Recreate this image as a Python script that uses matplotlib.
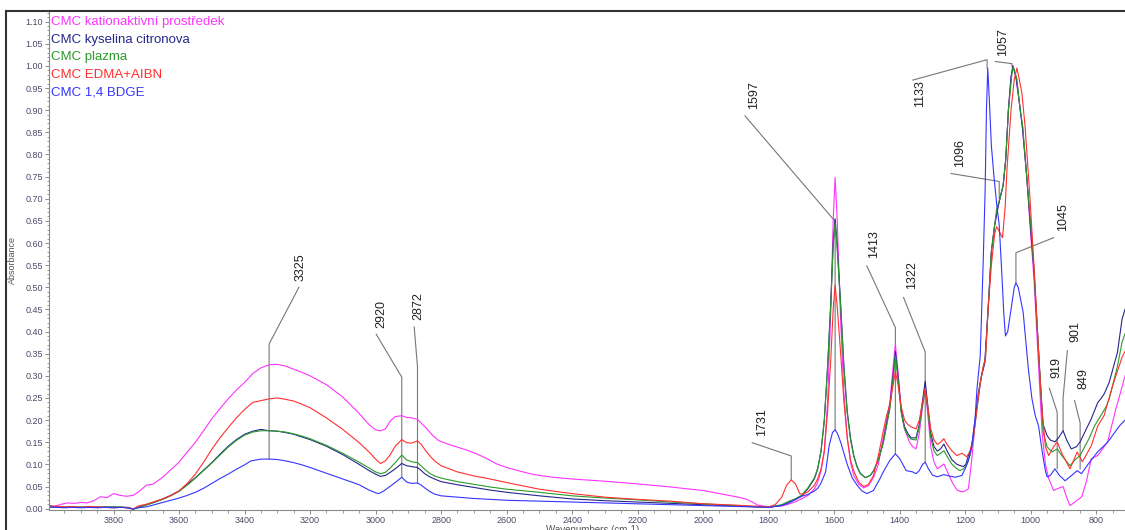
import matplotlib
matplotlib.use("Agg")
import matplotlib.pyplot as plt
from matplotlib.lines import Line2D
from matplotlib.ticker import MultipleLocator, FormatStrFormatter

plt.rcParams["font.family"] = ["Liberation Sans", "DejaVu Sans"]

# ------------------- data ------------------- #

names = [
    "CMC kationaktivní prostředek",
    "CMC kyselina citronova",
    "CMC plazma",
    "CMC EDMA+AIBN",
    "CMC 1,4 BDGE",
]
colors = ["#ff33ff", "#26268c", "#2b9a2b", "#ff3030", "#3535ff"]

wn_kation = [3997, 3980, 3960, 3940, 3920, 3900, 3880, 3860, 3840, 3820, 3800, 3780, 3760, 3740, 3720,
             3700, 3680, 3650, 3625, 3600, 3575, 3550, 3525, 3500, 3475, 3450, 3425, 3400, 3375, 3350,
             3325, 3300, 3275, 3250, 3225, 3200, 3150, 3100, 3050, 3020, 3000, 2985, 2970, 2955, 2940,
             2920, 2905, 2890, 2872, 2860, 2843, 2825, 2808, 2780, 2750, 2720, 2692, 2660, 2633, 2600,
             2560, 2517, 2460, 2400, 2300, 2200, 2100, 2000, 1950, 1900, 1870, 1850, 1833, 1800, 1760,
             1740, 1720, 1700, 1680, 1660, 1650, 1640, 1630, 1620, 1610, 1603, 1597, 1591, 1580, 1570,
             1560, 1550, 1540, 1525, 1510, 1495, 1480, 1465, 1450, 1440, 1430, 1420, 1413, 1405, 1395,
             1385, 1370, 1360, 1350, 1340, 1330, 1322, 1315, 1305, 1295, 1285, 1275, 1265, 1255, 1240,
             1225, 1210, 1200, 1190, 1180, 1170, 1160, 1150, 1140, 1130, 1120, 1110, 1100, 1094, 1084,
             1076, 1068, 1060, 1054, 1045, 1035, 1025, 1012, 1000, 990, 980, 970, 965, 955, 945,
             930, 919, 901, 890, 880, 870, 860, 844, 830, 815, 795, 765, 740, 721, 712]
abs_kation = [0.002, 0.005, 0.010, 0.013, 0.012, 0.014, 0.013, 0.018, 0.027, 0.025, 0.034, 0.030, 0.028, 0.030, 0.040,
              0.053, 0.055, 0.071, 0.088, 0.105, 0.128, 0.150, 0.176, 0.203, 0.226, 0.248, 0.268, 0.285, 0.305, 0.318,
              0.325, 0.326, 0.322, 0.315, 0.308, 0.300, 0.280, 0.252, 0.215, 0.190, 0.178, 0.176, 0.180, 0.198, 0.208,
              0.210, 0.206, 0.205, 0.202, 0.193, 0.180, 0.165, 0.154, 0.146, 0.139, 0.132, 0.124, 0.113, 0.102, 0.093,
              0.085, 0.077, 0.071, 0.067, 0.062, 0.056, 0.049, 0.041, 0.034, 0.027, 0.022, 0.015, 0.008, 0.004, 0.006,
              0.010, 0.015, 0.022, 0.030, 0.045, 0.060, 0.085, 0.130, 0.240, 0.450, 0.650, 0.748, 0.660, 0.420, 0.260,
              0.160, 0.105, 0.075, 0.055, 0.047, 0.052, 0.070, 0.100, 0.160, 0.200, 0.240, 0.320, 0.372, 0.310, 0.220,
              0.180, 0.150, 0.140, 0.135, 0.170, 0.230, 0.270, 0.220, 0.140, 0.105, 0.090, 0.095, 0.101, 0.085, 0.060,
              0.042, 0.038, 0.040, 0.045, 0.110, 0.190, 0.250, 0.300, 0.330, 0.450, 0.580, 0.640, 0.680, 0.700, 0.730,
              0.790, 0.900, 0.975, 1.000, 0.975, 0.920, 0.860, 0.750, 0.620, 0.520, 0.380, 0.240, 0.170, 0.100, 0.068,
              0.041, 0.045, 0.050, 0.025, 0.007, 0.012, 0.018, 0.027, 0.061, 0.113, 0.120, 0.151, 0.225, 0.275, 0.300]

wn_citron = [3997, 3975, 3950, 3925, 3900, 3875, 3850, 3825, 3800, 3775, 3755, 3740, 3725, 3700, 3675,
             3650, 3625, 3600, 3575, 3550, 3525, 3500, 3475, 3450, 3425, 3400, 3375, 3350, 3325, 3300,
             3275, 3250, 3225, 3200, 3150, 3100, 3050, 3020, 3000, 2985, 2970, 2955, 2940, 2920, 2905,
             2890, 2872, 2860, 2850, 2835, 2820, 2800, 2750, 2700, 2650, 2600, 2500, 2400, 2300, 2200,
             2100, 2000, 1900, 1800, 1760, 1740, 1720, 1700, 1680, 1660, 1650, 1640, 1630, 1620, 1610,
             1603, 1597, 1591, 1580, 1570, 1560, 1550, 1540, 1530, 1520, 1505, 1490, 1480, 1465, 1450,
             1440, 1430, 1420, 1413, 1405, 1395, 1385, 1375, 1365, 1350, 1340, 1330, 1322, 1315, 1305,
             1295, 1285, 1275, 1265, 1255, 1240, 1225, 1206, 1198, 1190, 1180, 1170, 1160, 1150, 1140,
             1130, 1120, 1110, 1100, 1094, 1084, 1076, 1068, 1060, 1054, 1045, 1035, 1025, 1012, 1000,
             990, 980, 970, 962, 950, 940, 926, 915, 901, 890, 876, 860, 849, 830, 815,
             795, 786, 775, 760, 735, 721, 712]
abs_citron = [0.007, 0.004, 0.003, 0.004, 0.003, 0.004, 0.003, 0.004, 0.004, 0.003, 0.003, -0.001, 0.003, 0.009, 0.015,
              0.022, 0.030, 0.040, 0.055, 0.070, 0.087, 0.104, 0.123, 0.141, 0.156, 0.168, 0.175, 0.179, 0.176, 0.175,
              0.172, 0.168, 0.162, 0.156, 0.141, 0.122, 0.100, 0.086, 0.078, 0.073, 0.075, 0.082, 0.090, 0.102, 0.097,
              0.095, 0.093, 0.086, 0.079, 0.072, 0.067, 0.061, 0.054, 0.048, 0.042, 0.037, 0.029, 0.022, 0.018, 0.015,
              0.012, 0.009, 0.006, 0.003, 0.008, 0.015, 0.020, 0.028, 0.045, 0.068, 0.090, 0.130, 0.200, 0.320, 0.470,
              0.600, 0.655, 0.600, 0.460, 0.320, 0.220, 0.160, 0.120, 0.095, 0.080, 0.070, 0.075, 0.085, 0.110, 0.150,
              0.190, 0.230, 0.300, 0.355, 0.300, 0.220, 0.185, 0.170, 0.160, 0.160, 0.190, 0.245, 0.288, 0.240, 0.170,
              0.140, 0.130, 0.135, 0.146, 0.130, 0.110, 0.100, 0.095, 0.100, 0.120, 0.140, 0.200, 0.260, 0.300, 0.330,
              0.450, 0.580, 0.640, 0.680, 0.700, 0.730, 0.790, 0.900, 0.975, 1.000, 0.975, 0.920, 0.860, 0.750, 0.630,
              0.540, 0.410, 0.280, 0.190, 0.165, 0.155, 0.151, 0.160, 0.176, 0.155, 0.135, 0.140, 0.151, 0.180, 0.203,
              0.240, 0.248, 0.260, 0.286, 0.353, 0.428, 0.450]

wn_plazma = [3997, 3975, 3950, 3925, 3900, 3875, 3850, 3825, 3800, 3775, 3755, 3740, 3725, 3700, 3675,
             3650, 3625, 3600, 3575, 3550, 3525, 3500, 3475, 3450, 3425, 3400, 3375, 3350, 3325, 3300,
             3275, 3250, 3225, 3200, 3150, 3100, 3050, 3020, 3000, 2985, 2970, 2955, 2940, 2920, 2905,
             2890, 2872, 2860, 2850, 2835, 2820, 2800, 2750, 2700, 2650, 2600, 2500, 2400, 2300, 2200,
             2100, 2000, 1900, 1800, 1760, 1740, 1720, 1700, 1680, 1660, 1650, 1640, 1630, 1620, 1610,
             1603, 1597, 1591, 1580, 1570, 1560, 1550, 1540, 1530, 1520, 1505, 1490, 1480, 1465, 1450,
             1440, 1430, 1420, 1413, 1405, 1395, 1385, 1375, 1365, 1350, 1340, 1330, 1322, 1315, 1305,
             1295, 1285, 1275, 1265, 1255, 1240, 1225, 1216, 1205, 1195, 1185, 1175, 1165, 1155, 1145,
             1138, 1130, 1120, 1110, 1104, 1094, 1084, 1076, 1068, 1057, 1053, 1042, 1032, 1024, 1012,
             996, 990, 980, 970, 962, 950, 935, 919, 905, 880, 865, 849, 835, 822, 805,
             786, 770, 760, 735, 721, 712]
abs_plazma = [0.004, 0.003, 0.004, 0.003, 0.004, 0.003, 0.004, 0.003, 0.004, 0.004, 0.002, -0.001, 0.002, 0.008, 0.014,
              0.021, 0.029, 0.039, 0.053, 0.069, 0.086, 0.103, 0.121, 0.139, 0.154, 0.166, 0.173, 0.176, 0.176, 0.175,
              0.173, 0.169, 0.164, 0.158, 0.143, 0.125, 0.105, 0.092, 0.083, 0.079, 0.082, 0.092, 0.104, 0.121, 0.110,
              0.106, 0.104, 0.096, 0.089, 0.080, 0.074, 0.069, 0.061, 0.055, 0.049, 0.044, 0.037, 0.029, 0.024, 0.020,
              0.015, 0.011, 0.007, 0.003, 0.009, 0.016, 0.022, 0.030, 0.047, 0.070, 0.092, 0.130, 0.200, 0.320, 0.465,
              0.590, 0.645, 0.590, 0.455, 0.315, 0.215, 0.155, 0.118, 0.094, 0.079, 0.070, 0.075, 0.085, 0.110, 0.148,
              0.187, 0.225, 0.290, 0.345, 0.290, 0.215, 0.180, 0.165, 0.157, 0.155, 0.185, 0.235, 0.265, 0.230, 0.160,
              0.130, 0.120, 0.125, 0.131, 0.118, 0.100, 0.090, 0.086, 0.090, 0.100, 0.120, 0.160, 0.220, 0.280, 0.320,
              0.340, 0.450, 0.580, 0.640, 0.676, 0.700, 0.730, 0.790, 0.900, 0.984, 0.998, 0.970, 0.900, 0.863, 0.750,
              0.608, 0.540, 0.410, 0.280, 0.173, 0.140, 0.128, 0.135, 0.120, 0.097, 0.110, 0.120, 0.140, 0.158, 0.187,
              0.210, 0.230, 0.248, 0.322, 0.376, 0.395]

wn_edma = [3997, 3975, 3950, 3925, 3900, 3875, 3850, 3825, 3800, 3775, 3755, 3740, 3725, 3700, 3675,
           3650, 3625, 3600, 3575, 3550, 3525, 3500, 3475, 3450, 3425, 3400, 3375, 3350, 3325, 3300,
           3275, 3250, 3225, 3200, 3150, 3100, 3050, 3020, 3000, 2985, 2970, 2955, 2940, 2920, 2905,
           2890, 2872, 2860, 2850, 2835, 2820, 2800, 2750, 2700, 2650, 2600, 2500, 2400, 2300, 2200,
           2100, 2000, 1900, 1800, 1780, 1760, 1745, 1731, 1718, 1705, 1695, 1680, 1660, 1650, 1640,
           1630, 1620, 1610, 1603, 1597, 1591, 1580, 1570, 1560, 1550, 1540, 1525, 1510, 1495, 1480,
           1465, 1450, 1440, 1430, 1420, 1413, 1405, 1395, 1385, 1375, 1365, 1350, 1340, 1330, 1322,
           1315, 1305, 1295, 1285, 1275, 1265, 1255, 1240, 1225, 1210, 1200, 1195, 1185, 1175, 1165,
           1155, 1145, 1138, 1130, 1120, 1110, 1104, 1095, 1086, 1078, 1072, 1060, 1050, 1042, 1035,
           1027, 1017, 1002, 986, 975, 965, 955, 945, 930, 919, 905, 880, 858, 842, 815,
           795, 776, 750, 721, 712]
abs_edma = [0.005, 0.006, 0.004, 0.005, 0.003, 0.005, 0.004, 0.003, 0.002, 0.003, 0.002, -0.001, 0.006, 0.010, 0.016,
            0.022, 0.030, 0.040, 0.057, 0.078, 0.105, 0.134, 0.160, 0.183, 0.205, 0.224, 0.240, 0.244, 0.248, 0.250,
            0.247, 0.243, 0.236, 0.228, 0.205, 0.179, 0.149, 0.128, 0.112, 0.102, 0.108, 0.122, 0.141, 0.156, 0.149,
            0.148, 0.153, 0.145, 0.134, 0.120, 0.108, 0.097, 0.083, 0.074, 0.067, 0.059, 0.044, 0.034, 0.026, 0.021,
            0.017, 0.011, 0.008, 0.004, 0.009, 0.026, 0.053, 0.065, 0.056, 0.034, 0.032, 0.038, 0.053, 0.068, 0.090,
            0.130, 0.220, 0.340, 0.450, 0.505, 0.460, 0.350, 0.240, 0.160, 0.110, 0.085, 0.060, 0.050, 0.055, 0.075,
            0.120, 0.175, 0.210, 0.235, 0.280, 0.310, 0.280, 0.230, 0.200, 0.190, 0.185, 0.180, 0.200, 0.240, 0.272,
            0.235, 0.180, 0.155, 0.145, 0.150, 0.158, 0.145, 0.130, 0.120, 0.125, 0.120, 0.117, 0.130, 0.160, 0.220,
            0.280, 0.320, 0.340, 0.450, 0.550, 0.620, 0.637, 0.625, 0.612, 0.680, 0.770, 0.900, 0.970, 0.995, 0.970,
            0.940, 0.863, 0.700, 0.500, 0.340, 0.220, 0.140, 0.120, 0.140, 0.151, 0.125, 0.090, 0.128, 0.106, 0.142,
            0.187, 0.210, 0.277, 0.342, 0.355]

wn_bdge = [3997, 3975, 3950, 3925, 3900, 3875, 3850, 3825, 3800, 3775, 3755, 3740, 3725, 3700, 3675,
           3650, 3625, 3600, 3575, 3550, 3525, 3500, 3475, 3450, 3425, 3400, 3380, 3350, 3325, 3300,
           3275, 3250, 3225, 3200, 3150, 3100, 3050, 3020, 3000, 2990, 2975, 2960, 2940, 2920, 2905,
           2890, 2872, 2860, 2850, 2835, 2820, 2800, 2750, 2700, 2600, 2500, 2400, 2300, 2200, 2100,
           2000, 1900, 1800, 1760, 1740, 1720, 1700, 1680, 1660, 1650, 1640, 1626, 1615, 1605, 1597,
           1590, 1580, 1570, 1560, 1545, 1530, 1515, 1500, 1480, 1460, 1450, 1430, 1413, 1400, 1380,
           1360, 1350, 1340, 1330, 1322, 1312, 1300, 1285, 1265, 1250, 1230, 1210, 1200, 1190, 1180,
           1170, 1164, 1154, 1145, 1139, 1135, 1131, 1126, 1120, 1112, 1104, 1096, 1088, 1082, 1077,
           1070, 1060, 1050, 1045, 1038, 1030, 1023, 1007, 996, 986, 976, 965, 955, 950, 940,
           926, 912, 895, 875, 858, 845, 825, 796, 765, 729, 712]
abs_bdge = [0.004, 0.003, 0.002, 0.003, 0.002, 0.003, 0.002, 0.003, 0.002, 0.003, 0.001, -0.001, 0.002, 0.004, 0.009,
            0.014, 0.019, 0.024, 0.030, 0.037, 0.046, 0.057, 0.068, 0.078, 0.089, 0.099, 0.108, 0.112, 0.112, 0.111,
            0.108, 0.104, 0.099, 0.093, 0.080, 0.067, 0.054, 0.042, 0.036, 0.034, 0.040, 0.048, 0.059, 0.071, 0.060,
            0.057, 0.058, 0.053, 0.047, 0.039, 0.033, 0.029, 0.026, 0.023, 0.019, 0.017, 0.015, 0.013, 0.011, 0.009,
            0.007, 0.005, 0.003, 0.007, 0.012, 0.020, 0.028, 0.032, 0.040, 0.046, 0.058, 0.083, 0.143, 0.172, 0.178,
            0.170, 0.150, 0.125, 0.100, 0.070, 0.053, 0.040, 0.034, 0.041, 0.068, 0.083, 0.109, 0.124, 0.113, 0.086,
            0.083, 0.079, 0.086, 0.100, 0.105, 0.090, 0.076, 0.072, 0.077, 0.074, 0.071, 0.075, 0.090, 0.109, 0.140,
            0.200, 0.270, 0.345, 0.556, 0.720, 0.900, 0.995, 0.920, 0.820, 0.750, 0.690, 0.640, 0.530, 0.440, 0.390,
            0.400, 0.450, 0.500, 0.510, 0.500, 0.470, 0.444, 0.315, 0.248, 0.210, 0.187, 0.130, 0.085, 0.072, 0.075,
            0.090, 0.075, 0.063, 0.075, 0.086, 0.079, 0.100, 0.128, 0.150, 0.187, 0.200]

spectra_wn = [wn_kation, wn_citron, wn_plazma, wn_edma, wn_bdge]
spectra_abs = [abs_kation, abs_citron, abs_plazma, abs_edma, abs_bdge]

# peak labels
peak_labels = ["3325", "2920", "2872", "1731", "1597", "1413", "1322",
               "1133", "1096", "1057", "1045", "919", "901", "849"]
peak_wn = [3325, 2920, 2872, 1731, 1597, 1413, 1322, 1133, 1096, 1057, 1045, 919, 901, 849]

# label placement: text centre, leader start, elbow height, foot of the drop line
text_pos = [(3230, 0.545), (2983, 0.44), (2870, 0.457), (1820, 0.196), (1844, 0.935),
            (1478, 0.597), (1363, 0.527), (1337, 0.937), (1217, 0.804), (1084, 1.054),
            (900, 0.658), (920, 0.318), (862, 0.40), (839, 0.293)]
leader_start = [(3234, 0.50), (2998, 0.394), (2882, 0.41), (1850, 0.149), (1872, 0.887),
                (1500, 0.548), (1388, 0.477), (1360, 0.968), (1243, 0.757), (1108, 1.01),
                (930, 0.612), (943, 0.272), (888, 0.357), (866, 0.244)]
elbow_y = [0.372, 0.297, 0.32, 0.119, 0.649, 0.409, 0.354, 1.014, 0.739, 1.005,
           0.578, 0.218, 0.25, 0.194]
foot_y = [0.112, 0.071, 0.058, 0.065, 0.178, 0.124, 0.105, 0.995, 0.70, 0.998,
          0.51, 0.09, 0.176, 0.09]

# ------------------- figure ------------------- #

W, H = 1125, 530
fig = plt.figure(figsize=(W / 100, H / 100), dpi=100)
ax = fig.add_axes([49 / W, 1 - 510 / H, 1 - 49 / W, (510 - 11) / H])

for wn, a, name, c in zip(spectra_wn, spectra_abs, names, colors):
    ax.plot(wn, a, color=c, linewidth=0.8, label=name)

for lab, pk, tp, ls, ey, fy in zip(peak_labels, peak_wn, text_pos, leader_start, elbow_y, foot_y):
    ax.plot([ls[0], pk, pk], [ls[1], ey, fy], color="#777777", linewidth=0.8, zorder=1)
    ax.text(tp[0], tp[1], lab, rotation=90, ha="center", va="center",
            fontsize=9, color="#222222")

ax.set_xlim(3997, 712)
ax.set_ylim(-0.003, 1.124)

ax.xaxis.set_major_locator(MultipleLocator(200))
ax.xaxis.set_minor_locator(MultipleLocator(50))
ax.yaxis.set_major_locator(MultipleLocator(0.05))
ax.yaxis.set_minor_locator(MultipleLocator(0.01))
ax.yaxis.set_major_formatter(FormatStrFormatter("%.2f"))

for side in ["top", "right"]:
    ax.spines[side].set_visible(False)
for side in ["left", "bottom"]:
    ax.spines[side].set_color("#8a8a8a")
    ax.spines[side].set_linewidth(0.8)

ax.tick_params(axis="both", which="major", labelsize=6.5, labelcolor="#4a4a6a",
               color="#8a8a8a", length=3, width=0.7, pad=1.5)
ax.tick_params(axis="both", which="minor", color="#8a8a8a", length=1.8, width=0.6)

ax.set_ylabel("Absorbance", fontsize=6.5, color="#555555")
ax.yaxis.set_label_coords((16.5 - 49) / (W - 49), 0.5)
fig.text(593 / W, 1 - 525 / H, "Wavenumbers (cm-1)", fontsize=7, color="#555555",
         ha="center", va="top")

leg = ax.legend(loc="upper left", bbox_to_anchor=(0.002, 0.99), frameon=False,
                handlelength=0, handletextpad=0, borderaxespad=0, borderpad=0,
                labelspacing=0.4, fontsize=9.5, labelcolor="linecolor")
for h in leg.legend_handles:
    h.set_visible(False)

# outer frame of the exported chart
fig.add_artist(Line2D([5.5 / W, 1], [1 - 10.5 / H, 1 - 10.5 / H], color="#333333", linewidth=1.5))
fig.add_artist(Line2D([5.5 / W, 5.5 / W], [0, 1 - 10.5 / H], color="#333333", linewidth=1.5))

fig.savefig("out.png", dpi=100)
